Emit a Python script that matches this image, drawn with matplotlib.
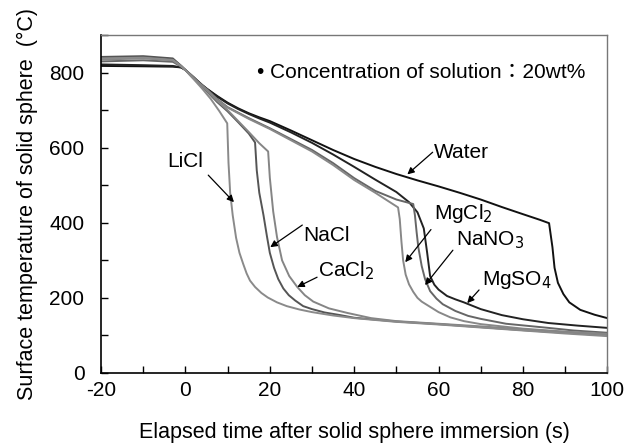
import matplotlib
matplotlib.use("Agg")
import matplotlib.pyplot as plt
from matplotlib.ticker import MultipleLocator

plt.rcParams['font.family'] = ['Liberation Sans', 'Noto Sans CJK JP', 'DejaVu Sans']
plt.rcParams['axes.unicode_minus'] = False

# ---------------- data ----------------
water_t = [-20, -10, -3, -1, 0, 1, 2, 3, 4, 5, 7.5, 10, 12.5, 15, 17.5, 20, 25, 30, 35, 40, 45, 50, 55, 60, 65, 70, 75, 80, 84,
           86.2, 87, 87.5, 88.3, 89.6, 91, 93.6, 97, 100]
water_T = [818, 817, 816, 814, 807, 797, 787, 777, 767, 758, 738, 720, 705, 692, 681, 671, 646, 620, 594, 570, 549, 530, 513, 497, 480, 462, 442, 423, 408,
           399, 335, 280, 240, 210, 188, 168, 155, 146]

mgso4_t = [-20, -10, -3, -1, 0, 1, 2, 3, 4, 5, 7.5, 10, 12.5, 15, 17.5, 20, 25, 30, 35, 40, 45, 50, 53, 55, 56.5, 57.3, 58, 59, 60, 62, 64, 66, 70, 75, 80, 86, 93, 100]
mgso4_T = [822, 820, 818, 814, 807, 797, 787, 776, 766, 757, 736, 718, 703, 690, 678, 667, 641, 613, 582, 549, 515, 482, 455, 428, 385, 320, 258, 235, 222, 205, 196, 188, 170, 154, 143, 133, 126, 120]

mgcl2_t = [-20, -10, -3, -1, 0, 1, 2, 3, 4, 5, 7.5, 10, 15, 20, 25, 30, 35, 40, 45, 50.4, 50.8, 51.2, 51.6, 52.2, 53, 54, 55, 56, 58, 60, 62.8, 66, 70, 80, 90, 100]
mgcl2_T = [840, 842, 836, 818, 807, 797, 786, 775, 765, 755, 728, 707, 677, 650, 620, 590, 554, 514, 480, 441, 410, 350, 300, 262, 236, 216, 200, 190, 176, 162, 148, 138, 130, 118, 110, 104]

nano3_t = [-20, -10, -3, -1, 0, 1, 2, 3, 4, 5, 7.5, 10, 15, 20, 25, 30, 35, 40, 45, 50, 54, 54.4, 54.8, 55.2, 56, 56.8, 58, 59.5, 61, 64, 67, 70, 76, 86, 92, 100]
nano3_T = [830, 833, 829, 816, 807, 797, 787, 776, 766, 757, 730, 708, 679, 652, 623, 594, 559, 519, 485, 462, 450, 420, 375, 335, 285, 250, 218, 198, 183, 165, 152, 144, 131, 120, 113, 107]

licl_t = [-20, -10, -3, -1, 0, 1, 2, 4, 6, 8, 9.9, 10.2, 10.6, 11.2, 12, 12.8, 13.7, 14.5, 15.3, 16.5, 18, 19.5, 21.7, 24, 27, 30, 35, 40, 50, 60, 70, 80, 90, 100]
licl_T = [838, 840, 834, 817, 807, 794, 782, 757, 730, 698, 665, 560, 480, 420, 360, 320, 290, 265, 246, 229, 213, 201, 188, 178, 169, 162, 153, 146, 136, 129, 121, 113, 105, 98]

nacl_t = [-20, -10, -3, -1, 0, 1, 2, 3.5, 5, 7.5, 10, 12.5, 15, 16.5, 16.9, 17.5, 18.5, 19.3, 20, 21, 22, 23.2, 24.5, 26, 27.9, 30, 33, 36.7, 40, 50, 60, 70, 80, 90, 100]
nacl_T = [842, 844, 838, 818, 807, 796, 785, 768, 751, 722, 697, 668, 638, 614, 540, 480, 420, 365, 320, 280, 250, 225, 207, 193, 178, 170, 161, 154, 147, 137, 130, 122, 114, 107, 100]

cacl2_t = [-20, -10, -3, -1, 0, 1, 2, 3.5, 5, 7.5, 10, 12.5, 15, 17.5, 19.6, 20, 20.8, 21.7, 22.9, 24.6, 26.5, 28.3, 30.3, 34, 38.3, 44, 50, 60, 70, 80, 90, 100]
cacl2_T = [835, 838, 833, 817, 807, 796, 785, 769, 753, 725, 700, 671, 642, 612, 590, 520, 430, 362, 300, 258, 229, 207, 190, 172, 160, 146, 138, 131, 124, 116, 109, 102]

x_ticks = [-20, 0, 20, 40, 60, 80, 100]
y_ticks = [0, 200, 400, 600, 800]

# ---------------- figure ----------------
fig = plt.figure(figsize=(6.28, 4.45), dpi=100)
ax = fig.add_axes([0.161, 0.162, 0.806, 0.759])

lw = 1.4
ax.plot(water_t, water_T, color='#111111', lw=lw)
ax.plot(mgso4_t, mgso4_T, color='#222222', lw=lw)
ax.plot(nano3_t, nano3_T, color='#666666', lw=lw)
ax.plot(mgcl2_t, mgcl2_T, color='#888888', lw=lw)
ax.plot(nacl_t, nacl_T, color='#555555', lw=lw)
ax.plot(cacl2_t, cacl2_T, color='#858585', lw=lw)
ax.plot(licl_t, licl_T, color='#8a8a8a', lw=lw)

ax.set_xlim(-20, 100)
ax.set_ylim(0, 900)
ax.set_xticks(x_ticks)
ax.set_yticks(y_ticks)
ax.xaxis.set_minor_locator(MultipleLocator(10))
ax.yaxis.set_minor_locator(MultipleLocator(100))
ax.tick_params(axis='both', which='both', direction='in', top=False, right=False,
               labelsize=15, color='black')
ax.tick_params(axis='both', which='both', length=5, width=1)
ax.tick_params(axis='x', which='major', pad=6)
ax.tick_params(axis='y', which='major', pad=12)

for s in ['left', 'bottom']:
    ax.spines[s].set_color('black')
    ax.spines[s].set_linewidth(1.2)
for s in ['top', 'right']:
    ax.spines[s].set_color('#777777')
    ax.spines[s].set_linewidth(1.0)

ax.set_xlabel('Elapsed time after solid sphere immersion (s)', fontsize=15.5, labelpad=16)
ax.set_ylabel('Surface temperature of solid sphere  (\u00b0C)', fontsize=15.5, labelpad=8)

fs = 15
arrow = dict(arrowstyle='-|>', color='black', lw=0.9, mutation_scale=10, shrinkA=0, shrinkB=0)

ax.text(-0.1, 564, 'LiCl', fontsize=fs, ha='center', va='center')
ax.annotate('', xy=(11.5, 455), xytext=(5.4, 527), arrowprops=arrow)

ax.text(28.0, 367, 'NaCl', fontsize=fs, ha='left', va='center')
ax.annotate('', xy=(20.1, 335), xytext=(27.7, 394), arrowprops=arrow)

ax.text(31.5, 272, 'CaCl$_2$', fontsize=fs, ha='left', va='center')
ax.annotate('', xy=(26.5, 229), xytext=(31.2, 255), arrowprops=arrow)

ax.text(59.0, 588, 'Water', fontsize=fs, ha='left', va='center')
ax.annotate('', xy=(52.6, 529), xytext=(58.6, 588), arrowprops=arrow)

ax.text(59.0, 425, 'MgCl$_2$', fontsize=fs, ha='left', va='center')
ax.annotate('', xy=(52.1, 295), xytext=(58.2, 382), arrowprops=arrow)

ax.text(64.2, 354, 'NaNO$_3$', fontsize=fs, ha='left', va='center')
ax.annotate('', xy=(56.8, 234), xytext=(63.4, 327), arrowprops=arrow)

ax.text(70.3, 248, 'MgSO$_4$', fontsize=fs, ha='left', va='center')
ax.annotate('', xy=(66.8, 186), xytext=(69.6, 221), arrowprops=arrow)

ax.text(17.0, 800, '\u2022 Concentration of solution\uff1a20wt%', fontsize=15, ha='left', va='center')

fig.savefig('out.png', dpi=100)
